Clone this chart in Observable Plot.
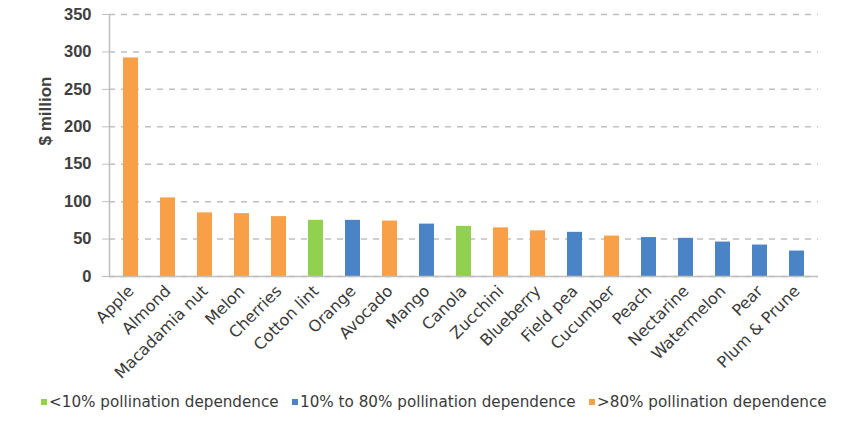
<!DOCTYPE html>
<html>
<head>
<meta charset="utf-8">
<script src="https://cdn.jsdelivr.net/npm/d3@7"></script>
<script src="https://cdn.jsdelivr.net/npm/@observablehq/plot@0.6"></script>
<style>
  html, body { margin: 0; padding: 0; background: #fff; }
  #chart svg { display: block; }
  .legend { position: relative; height: 40px; font-family: "DejaVu Sans", sans-serif; font-size: 15.2px; color: #3a3a3a; letter-spacing: 0px; }
  .legend .item { position: absolute; top: 8px; display: flex; align-items: center; white-space: nowrap; }
  .legend .sw { width: 6px; height: 6px; margin-right: 2px; }
</style>
</head>
<body>
<div id="chart"></div>
<div class="legend" id="legend"></div>
<script>
const crops = ["Apple","Almond","Macadamia nut","Melon","Cherries","Cotton lint","Orange","Avocado","Mango","Canola","Zucchini","Blueberry","Field pea","Cucumber","Peach","Nectarine","Watermelon","Pear","Plum & Prune"];
const values = [292,105,85,84,80,75,75,74,70,67,65,61,59,54,52,51,46,42,34];
const groups = [">80%",">80%",">80%",">80%",">80%","<10%","10-80%",">80%","10-80%","<10%",">80%",">80%","10-80%",">80%","10-80%","10-80%","10-80%","10-80%","10-80%"];
const groupKeys = ["<10%","10-80%",">80%"];
const groupLabels = ["<10% pollination dependence","10% to 80% pollination dependence",">80% pollination dependence"];
const groupColors = ["#92D050","#4A84C6","#F8A048"];
const yTicks = [0,50,100,150,200,250,300,350];

const data = crops.map((c, i) => ({crop: c, value: values[i], group: groups[i]}));

const plot = Plot.plot({
  width: 865,
  height: 385,
  marginLeft: 109,
  marginRight: 47,
  marginTop: 14,
  marginBottom: 109,
  style: {fontFamily: "Liberation Sans, Arial, sans-serif", color: "#404040", background: "#fff"},
  x: {domain: crops, paddingInner: 0.6, paddingOuter: 0.3, label: null},
  y: {domain: [0, 350], ticks: yTicks, label: null},
  color: {domain: groupKeys, range: groupColors},
  marks: [
    Plot.gridY(yTicks, {stroke: "#BFBFBF", strokeOpacity: 1, strokeWidth: 1.5, strokeDasharray: "6,6"}),
    Plot.barY(data, {x: "crop", y: "value", fill: "group"}),
    Plot.ruleY([0], {stroke: "#BFBFBF", strokeWidth: 1.5}),
    Plot.frame({anchor: "left", stroke: "#BFBFBF", strokeWidth: 1.5}),
    Plot.axisY(yTicks, {tickSize: 7, stroke: "#BFBFBF", tickPadding: 11, fontSize: 16.5, fontWeight: "bold", fill: "#404040", label: null}),
    Plot.axisX({tickSize: 0, tickRotate: -45, tickPadding: 12, fontSize: 16, fontFamily: "DejaVu Sans, sans-serif", fill: "#3a3a3a", label: null}),
    Plot.text(["$ million"], {frameAnchor: "left", rotate: -90, dx: -64, fontSize: 17, fontWeight: "bold", fill: "#404040"})
  ]
});
document.getElementById("chart").appendChild(plot);

const legend = document.getElementById("legend");
const lefts = [41, 292, 589];
groupKeys.forEach((k, i) => {
  const item = document.createElement("div");
  item.className = "item";
  item.style.left = lefts[i] + "px";
  const sw = document.createElement("span");
  sw.className = "sw";
  sw.style.background = groupColors[i];
  const t = document.createElement("span");
  t.textContent = groupLabels[i];
  item.appendChild(sw); item.appendChild(t);
  legend.appendChild(item);
});
</script>
</body>
</html>
